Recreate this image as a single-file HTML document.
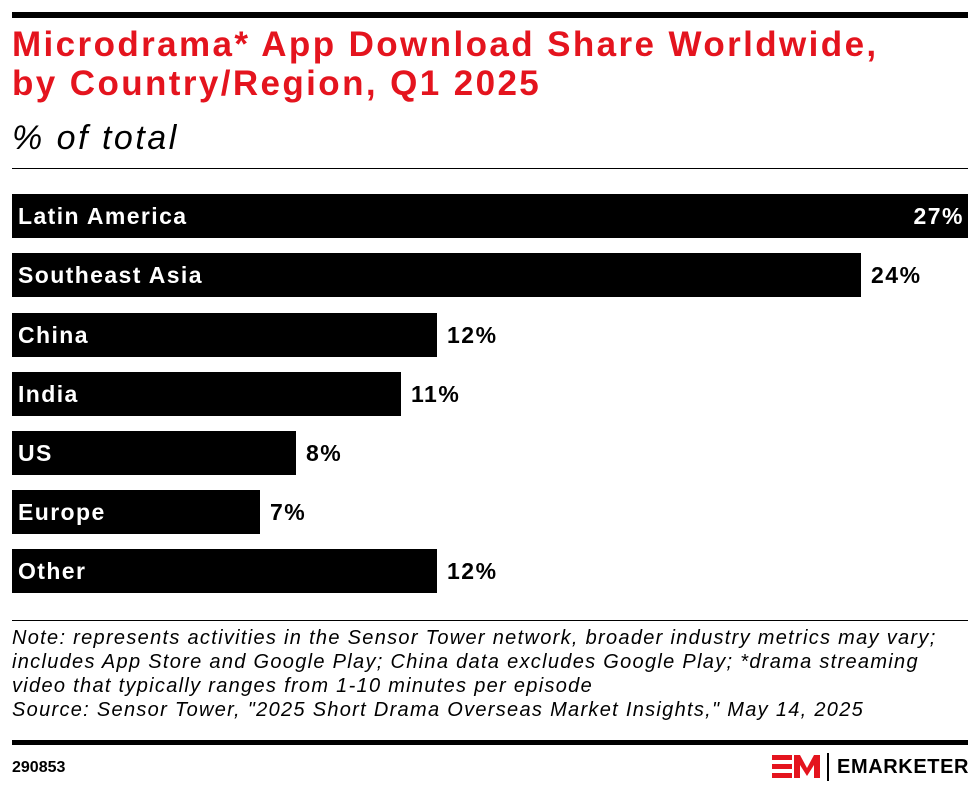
<!DOCTYPE html>
<html><head><meta charset="utf-8"><style>
body{margin:0;background:#fff;font-family:"Liberation Sans",sans-serif;}
.w{position:relative;width:980px;height:794px;overflow:hidden;}
.a{position:absolute;}
.bar{position:absolute;left:12px;height:44px;background:#000;}
.lbl{position:absolute;left:18px;color:#fff;font-size:23px;font-weight:bold;line-height:44px;letter-spacing:1.4px;}
.val{position:absolute;font-size:23px;font-weight:bold;line-height:44px;color:#000;letter-spacing:1.5px;}
</style></head><body><div class="w">
<div class="a" style="left:12px;top:12px;width:956px;height:6px;background:#000"></div>
<div class="a" style="left:12px;top:25px;font-size:35px;font-weight:bold;color:#e4141e;line-height:39px;letter-spacing:2.4px;white-space:nowrap">Microdrama* App Download Share Worldwide,<br>by Country/Region, Q1 2025</div>
<div class="a" style="left:12px;top:118px;font-size:34px;font-style:italic;line-height:40px;letter-spacing:2.5px">% of total</div>
<div class="a" style="left:12px;top:168px;width:956px;height:1px;background:#000"></div>

<div class="bar" style="top:194px;width:956px"></div><div class="lbl" style="top:194px">Latin America</div><div class="val" style="top:194px;right:16px;color:#fff">27%</div>
<div class="bar" style="top:253px;width:849px"></div><div class="lbl" style="top:253px">Southeast Asia</div><div class="val" style="top:253px;left:871px">24%</div>
<div class="bar" style="top:313px;width:425px"></div><div class="lbl" style="top:313px">China</div><div class="val" style="top:313px;left:447px">12%</div>
<div class="bar" style="top:372px;width:389px"></div><div class="lbl" style="top:372px">India</div><div class="val" style="top:372px;left:411px">11%</div>
<div class="bar" style="top:431px;width:284px"></div><div class="lbl" style="top:431px">US</div><div class="val" style="top:431px;left:306px">8%</div>
<div class="bar" style="top:490px;width:248px"></div><div class="lbl" style="top:490px">Europe</div><div class="val" style="top:490px;left:270px">7%</div>
<div class="bar" style="top:549px;width:425px"></div><div class="lbl" style="top:549px">Other</div><div class="val" style="top:549px;left:447px">12%</div>

<div class="a" style="left:12px;top:620px;width:956px;height:1px;background:#000"></div>
<div class="a" style="left:12px;top:626px;font-size:20px;font-style:italic;line-height:24px;white-space:nowrap;letter-spacing:1.3px">Note: represents activities in the Sensor Tower network, broader industry metrics may vary;<br>includes App Store and Google Play; China data excludes Google Play; *drama streaming<br>video that typically ranges from 1-10 minutes per episode<br>Source: Sensor Tower, "2025 Short Drama Overseas Market Insights," May 14, 2025</div>
<div class="a" style="left:12px;top:740px;width:956px;height:5px;background:#000"></div>
<div class="a" style="left:12px;top:759px;font-size:16px;font-weight:bold">290853</div>
<svg class="a" style="left:772px;top:752px" width="50" height="30" viewBox="0 0 50 30">
<rect x="0" y="3" width="20" height="5" fill="#e4141e"/><rect x="0" y="12" width="20" height="5" fill="#e4141e"/><rect x="0" y="21" width="20" height="5" fill="#e4141e"/>
<path d="M22 26 L22 3 L28 3 L35 16 L42 3 L48 3 L48 26 L42 26 L42 13 L35 24 L28 13 L28 26Z" fill="#e4141e"/>
</svg>
<div class="a" style="left:827px;top:753px;width:2px;height:28px;background:#000"></div>
<div class="a" style="left:837px;top:756px;font-size:20px;font-weight:bold;letter-spacing:0.6px">EMARKETER</div>
</div></body></html>
